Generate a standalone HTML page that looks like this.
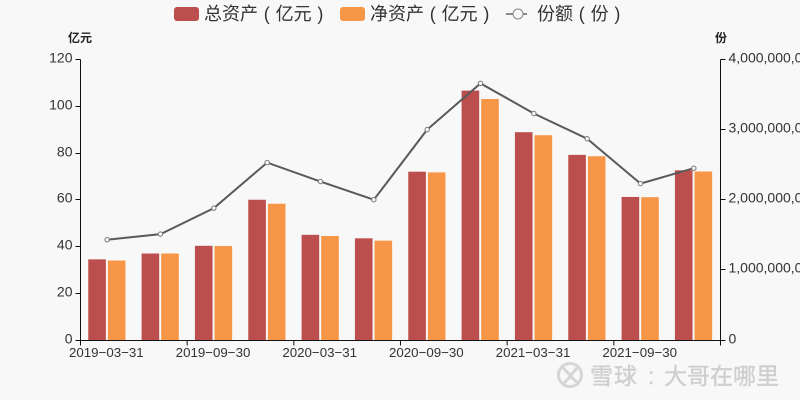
<!DOCTYPE html>
<html lang="zh">
<head>
<meta charset="utf-8">
<title>资产与份额图表</title>
<style>
html,body{margin:0;padding:0;background:#f8f8f8;}
svg{display:block;font-family:"Liberation Sans","Noto Sans CJK SC",sans-serif;}
</style>
</head>
<body>
<svg id="chart" xmlns="http://www.w3.org/2000/svg" width="800" height="400" viewBox="0 0 800 400">
  <rect x="0" y="0" width="800" height="400" fill="#f8f8f8"/>
  <g>
    <g>
      <rect x="174" y="7" width="25" height="14" rx="3" fill="#bc4f4d"/>
      <text x="204" y="20" font-size="18" word-spacing="0.8" fill="#333">总资产 ( 亿元 )</text>
    </g>
    <g>
      <rect x="340" y="7" width="25" height="14" rx="3" fill="#f79646"/>
      <text x="370" y="20" font-size="18" word-spacing="0.8" fill="#333">净资产 ( 亿元 )</text>
    </g>
    <g>
      <line x1="506" y1="14" x2="527" y2="14" stroke="#666" stroke-width="1.5"/>
      <circle cx="518" cy="14" r="5" fill="#f8f8f8" stroke="#888" stroke-width="1"/>
      <text x="537" y="20" font-size="18" word-spacing="0.8" fill="#333">份额 ( 份 )</text>
    </g>
  </g>
  <text x="80" y="42" font-size="12" font-weight="bold" text-anchor="middle" fill="#222">亿元</text>
  <text x="721" y="42" font-size="12" font-weight="bold" text-anchor="middle" fill="#222">份</text>
  <g id="bars"></g>
  <g id="axes"></g>
  <g id="line"></g>
  <g>
    <g fill="none" stroke="#d6d6d6" stroke-width="3">
      <circle cx="570" cy="375" r="11.5"/>
      <path d="M563 368 L571 376 L564 383 M577 368 L570 376 L578 383"/>
    </g>
    <text x="590 614 648 664 687 710 733 756" y="384" font-size="23" fill="#cfcfcf" stroke="#cfcfcf" stroke-width="0.4">雪球:大哥在哪里</text>
  </g>
</svg>
<script>
var categories = ["2019-03-31","2019-06-30","2019-09-30","2019-12-31","2020-03-31","2020-06-30","2020-09-30","2020-12-31","2021-03-31","2021-06-30","2021-09-30","2021-12-31"];
var totalAssets = [34.5,37,40.3,60,45,43.5,72,106.7,88.9,79.2,61.2,72.6];
var netAssets = [34,37,40.2,58.3,44.5,42.5,71.7,103.1,87.6,78.6,61.1,72.1];
var shares = [1430000000,1510000000,1880000000,2530000000,2260000000,2000000000,3000000000,3660000000,3230000000,2870000000,2230000000,2450000000];
var leftTicks = [0,20,40,60,80,100,120];
var rightTicks = [0,1000000000,2000000000,3000000000,4000000000];
var rightTickLabels = ["0","1,000,000,000","2,000,000,000","3,000,000,000","4,000,000,000"];

var NS = "http://www.w3.org/2000/svg";
var plotLeft = 80.5, plotRight = 720.5, plotTop = 59.5, plotBottom = 340;
var leftMax = 120, rightMax = 4000000000;
var band = (plotRight - plotLeft) / categories.length;
var barWidth = 17.6, barGap = 2;

function bandStart(i){ return plotLeft + band * i; }
function xCenter(i){ return bandStart(i) + band / 2; }
function yLeft(v){ return plotBottom - (v / leftMax) * (plotBottom - plotTop); }
function yRight(v){ return plotBottom - (v / rightMax) * (plotBottom - plotTop); }
function make(tag, attrs, parent){
  var el = document.createElementNS(NS, tag);
  for (var k in attrs) el.setAttribute(k, attrs[k]);
  parent.appendChild(el);
  return el;
}

var barsG = document.getElementById("bars");
var axesG = document.getElementById("axes");
var lineG = document.getElementById("line");

categories.forEach(function(c, i){
  var y1 = yLeft(totalAssets[i]);
  var r1 = make("rect", {x: xCenter(i) - barGap / 2 - barWidth - 0.3, y: y1, width: barWidth, height: plotBottom - y1, fill: "#bc4f4d"}, barsG);
  
  
  var y2 = yLeft(netAssets[i]);
  var r2 = make("rect", {x: xCenter(i) + barGap / 2 - 0.3, y: y2, width: barWidth, height: plotBottom - y2, fill: "#f79646"}, barsG);
  
  
});

var axisY = Math.floor(plotBottom) + 0.5;
var leftAxis = make("line", {x1: plotLeft, y1: plotTop, x2: plotLeft, y2: axisY + 5, stroke: "#111", "stroke-width": 1}, axesG);


var rightAxis = make("line", {x1: plotRight, y1: plotTop, x2: plotRight, y2: axisY + 5, stroke: "#111", "stroke-width": 1}, axesG);


var xAxis = make("line", {x1: plotLeft, y1: axisY, x2: plotRight, y2: axisY, stroke: "#111", "stroke-width": 1}, axesG);



leftTicks.forEach(function(v){
  var y = Math.floor(yLeft(v)) + 0.5;
  var t = make("line", {x1: plotLeft - 5, y1: y, x2: plotLeft, y2: y, stroke: "#111", "stroke-width": 1}, axesG);
  
  
  var l = make("text", {x: plotLeft - 8, y: y + 3, "font-size": 14, "text-anchor": "end", fill: "#333"}, axesG);
  
  
  l.textContent = String(v);
});

rightTicks.forEach(function(v, i){
  var y = Math.floor(yRight(v)) + 0.5;
  var t = make("line", {x1: plotRight, y1: y, x2: plotRight + 5, y2: y, stroke: "#111", "stroke-width": 1}, axesG);
  
  
  var l = make("text", {x: plotRight + 8, y: y + 3, "font-size": 14, fill: "#333"}, axesG);
  
  
  l.textContent = rightTickLabels[i];
});

categories.forEach(function(c, i){
  if (i % 2 !== 0) return;
  var t = make("line", {x1: bandStart(i), y1: axisY, x2: bandStart(i), y2: axisY + 5, stroke: "#111", "stroke-width": 1}, axesG);
  
  
  var l = make("text", {x: xCenter(i) - 0.8, y: plotBottom + 17, "font-size": 13.3, "text-anchor": "middle", fill: "#333"}, axesG);
  
  
  l.textContent = c.replace(/-/g, "\u2212");
});

var pts = shares.map(function(v, i){ return xCenter(i) + "," + yRight(v); }).join(" ");
var poly = make("polyline", {points: pts, fill: "none", stroke: "#5a5a5a", "stroke-width": 2}, lineG);


shares.forEach(function(v, i){
  var p = make("circle", {cx: xCenter(i), cy: yRight(v), r: 2.2, fill: "#f8f8f8", stroke: "#777", "stroke-width": 1}, lineG);
  
  
});
</script>
</body>
</html>
